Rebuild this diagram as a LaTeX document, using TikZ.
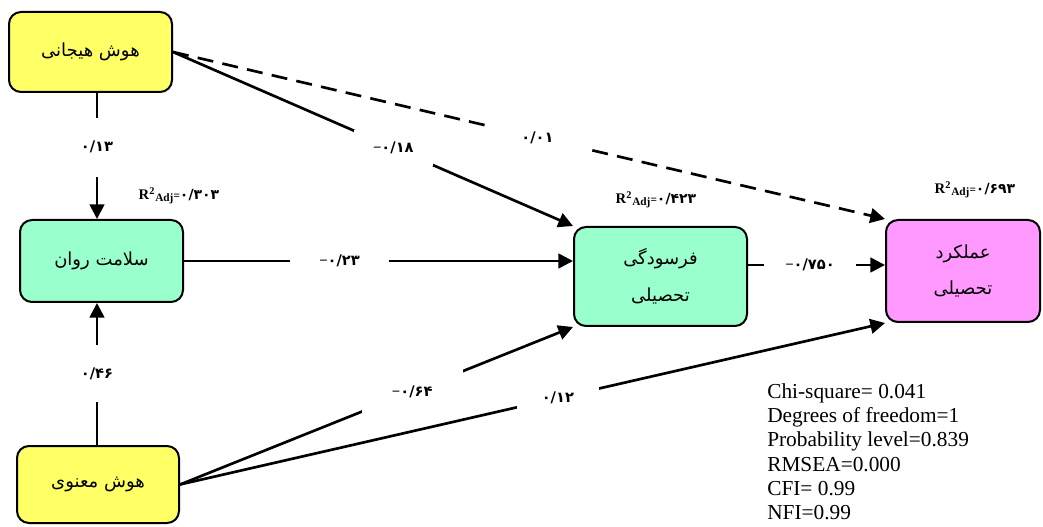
\documentclass[tikz,border=0pt]{standalone}
\usepackage{fontspec}
\setmainfont{Liberation Serif}
\newfontfamily\fa[Script=Arabic]{DejaVu Sans}
\TeXXeTstate=1
\usetikzlibrary{arrows.meta,calc}
\definecolor{cyel}{RGB}{255,255,102}
\definecolor{cgrn}{RGB}{153,255,204}
\definecolor{cpnk}{RGB}{255,153,255}
\newcommand\mns{{\rmfamily\bfseries −}}
\newcommand\rsq[1]{\textbf{R}\textsuperscript{\textbf{2}}{\bfseries\fontsize{8.5}{9}\selectfont\raisebox{-1.5pt}{Adj}=}{\fa\bfseries\fontsize{10.5}{11}\selectfont #1}}
\begin{document}
\begin{tikzpicture}[x=0.75pt,y=-0.75pt,
  box/.style={draw, line width=1.5pt, rounded corners=9pt, align=center,
    font=\fa\fontsize{13.5}{27.5}\selectfont, inner sep=0pt},
  conn/.style={line width=2pt, -{Triangle[length=11pt,width=11pt]}},
  dconn/.style={conn, dash pattern=on 12pt off 7pt},
  gap/.style={fill=white, inner sep=0pt, font=\fa\bfseries\fontsize{11}{12}\selectfont},
  rlab/.style={inner sep=0pt, font=\fontsize{11}{12}\selectfont},
  stat/.style={anchor=north west, align=left, inner sep=0pt, font=\fontsize{16}{18.15}\selectfont}]
\useasboundingbox (0,0) rectangle (1043,527);

\node[box, fill=cyel, minimum width=122.25pt, minimum height=60pt] (hay) at (90.5,52) {\beginR هوش هیجانی\endR};
\node[box, fill=cgrn, minimum width=122.25pt, minimum height=61.5pt] (sal) at (101.5,261) {\beginR سلامت روان\endR};
\node[box, fill=cgrn, minimum width=129.75pt, minimum height=74.25pt] (far) at (660.5,276.5) {\beginR فرسودگی\endR\\\beginR تحصیلی\endR};
\node[box, fill=cpnk, minimum width=115.5pt, minimum height=76.5pt] (amal) at (963,271) {\beginR عملکرد\endR\\\beginR تحصیلی\endR};
\node[box, fill=cyel, minimum width=121.5pt, minimum height=57.75pt] (man) at (98,484.5) {\beginR هوش معنوی\endR};

\coordinate (vx) at (97,0);
\coordinate (fy) at (0,265);

\draw[conn] (vx |- hay.south) -- node[gap, pos=0.43, minimum width=22pt, minimum height=44pt] (l1) {۰/۱۳} (vx |- sal.north);
\draw[conn] (hay.east) -- node[gap, pos=0.551, minimum width=59pt, minimum height=27pt] (l2) {\mns۰/۱۸} (far.north west);
\draw[dconn] (hay.east) -- node[gap, pos=0.512, minimum width=76pt, minimum height=19.5pt] (l3) {۰/۰۱} (amal.north west);
\draw[conn] (sal.east) -- node[gap, pos=0.40, minimum width=74pt, minimum height=15pt] (l4) {\mns۰/۲۳} (sal.east -| far.west);
\draw[conn] (far.east |- fy) -- node[gap, pos=0.453, minimum width=69pt, minimum height=15pt] (l5) {\mns۰/۷۵۰} (amal.west |- fy);
\draw[conn] (vx |- man.north) -- node[gap, pos=0.503, minimum width=22pt, minimum height=43pt] (l6) {۰/۴۶} (vx |- sal.south);
\draw[conn] (man.east) -- node[gap, pos=0.591, minimum width=76pt, minimum height=33pt] (l7) {\mns۰/۶۴} (far.south west);
\draw[conn] (man.east) -- node[gap, pos=0.536, minimum width=61.5pt, minimum height=16.5pt] (l8) {۰/۱۲} (amal.south west);

\node[rlab] (r1) at (179,196) {\rsq{۰/۳۰۳}};
\node[rlab] (r2) at (656,200) {\rsq{۰/۴۲۳}};
\node[rlab] (r3) at (975,190) {\rsq{۰/۶۹۳}};

\node[stat] (stats) at (767,383.5) {Chi-square= 0.041\\Degrees of freedom=1\\Probability level=0.839\\RMSEA=0.000\\CFI= 0.99\\NFI=0.99};
\end{tikzpicture}
\end{document}
